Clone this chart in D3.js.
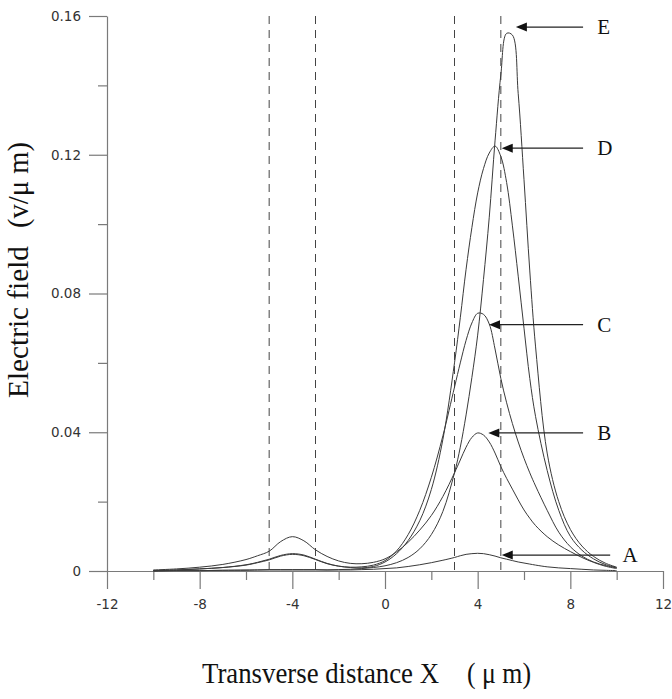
<!DOCTYPE html>
<html>
<head>
<meta charset="utf-8">
<script src="https://cdn.jsdelivr.net/npm/d3@7"></script>
<style>
  body { margin: 0; background: #fff; }
  svg { display: block; }
</style>
</head>
<body>
<svg id="chart"></svg>
<script>
var width = 672;
var height = 699;

// transverse position (µm), shared by every curve
var xs = [-10, -9, -8, -7, -6, -5.5, -5, -4.5, -4, -3.5, -3, -2.5, -2, -1.5, -1, -0.5,
          0, 0.5, 1, 1.5, 2, 2.5, 3, 3.25, 3.5, 3.75, 4, 4.25, 4.5, 4.75, 5, 5.25,
          5.5, 5.75, 6, 6.25, 6.5, 7, 7.5, 8, 8.5, 9, 9.5, 10];

// electric field (v/µm) for each curve
var fieldA = [0.0000, 0.0001, 0.0001, 0.0002, 0.0003, 0.0003, 0.0004, 0.0004, 0.0004, 0.0004, 0.0004, 0.0003, 0.0003, 0.0003, 0.0004, 0.0005,
              0.0007, 0.0009, 0.0013, 0.0018, 0.0024, 0.0031, 0.0039, 0.0044, 0.0048, 0.0050, 0.0051, 0.0050, 0.0047, 0.0043, 0.0038, 0.0034,
              0.0030, 0.0026, 0.0023, 0.0020, 0.0017, 0.0012, 0.0009, 0.0007, 0.0005, 0.0003, 0.0002, 0.0001];
var fieldB = [0.0003, 0.0006, 0.0011, 0.0019, 0.0033, 0.0044, 0.0057, 0.0085, 0.0099, 0.0087, 0.0061, 0.0042, 0.0029, 0.0022, 0.0021, 0.0025,
              0.0035, 0.0055, 0.0083, 0.0118, 0.0160, 0.0215, 0.0283, 0.0320, 0.0357, 0.0385, 0.0398, 0.0392, 0.0372, 0.0340, 0.0301, 0.0267,
              0.0236, 0.0205, 0.0176, 0.0152, 0.0131, 0.0099, 0.0075, 0.0056, 0.0039, 0.0025, 0.0014, 0.0007];
var fieldC = [0.0001, 0.0003, 0.0006, 0.0010, 0.0017, 0.0024, 0.0032, 0.0043, 0.0048, 0.0044, 0.0033, 0.0021, 0.0014, 0.0011, 0.0012, 0.0017,
              0.0030, 0.0058, 0.0105, 0.0175, 0.0270, 0.0390, 0.0530, 0.0600, 0.0665, 0.0715, 0.0743, 0.0740, 0.0712, 0.0640, 0.0555, 0.0485,
              0.0425, 0.0372, 0.0325, 0.0283, 0.0245, 0.0175, 0.0112, 0.0070, 0.0043, 0.0026, 0.0016, 0.0009];
var fieldD = [0.0001, 0.0003, 0.0006, 0.0010, 0.0018, 0.0025, 0.0034, 0.0045, 0.0050, 0.0046, 0.0034, 0.0022, 0.0014, 0.0010, 0.0009, 0.0013,
              0.0026, 0.0050, 0.0088, 0.0145, 0.0235, 0.0380, 0.0600, 0.0730, 0.0870, 0.0990, 0.1090, 0.1160, 0.1205, 0.1225, 0.1195, 0.1120,
              0.0995, 0.0850, 0.0700, 0.0555, 0.0445, 0.0290, 0.0175, 0.0100, 0.0060, 0.0035, 0.0019, 0.0010];
var fieldE = [0.0000, 0.0001, 0.0001, 0.0002, 0.0002, 0.0003, 0.0003, 0.0003, 0.0003, 0.0003, 0.0003, 0.0003, 0.0004, 0.0005, 0.0007, 0.0010,
              0.0015, 0.0024, 0.0039, 0.0064, 0.0105, 0.0172, 0.0283, 0.0357, 0.0450, 0.0558, 0.0680, 0.0840, 0.1020, 0.1240, 0.1430, 0.1550,
              0.1545, 0.1376, 0.1128, 0.0865, 0.0646, 0.0340, 0.0200, 0.0120, 0.0072, 0.0042, 0.0023, 0.0011];

var seriesNames = ["A", "B", "C", "D", "E"];
var seriesValues = [fieldA, fieldB, fieldC, fieldD, fieldE];

// arrows: tip (x, field), tail x, label x
var arrowTipX = [5.04, 4.46, 4.49, 5.04, 5.65];
var arrowTipY = [0.0046, 0.0398, 0.0710, 0.1219, 0.1568];
var arrowTailX = [9.72, 8.55, 8.55, 8.55, 8.55];
var labelX = [10.25, 9.16, 9.16, 9.16, 9.16];

// waveguide edges
var guideEdges = [-5, -3, 3, 5];

var xMajor = [-12, -8, -4, 0, 4, 8, 12];
var xMinor = [-10, -6, -2, 2, 6, 10];
var yMajor = [0, 0.04, 0.08, 0.12, 0.16];
var yMinor = [0.02, 0.06, 0.1, 0.14];

var svg = d3.select("#chart")
    .attr("width", width)
    .attr("height", height);

var x = d3.scaleLinear().domain([-12, 12]).range([107, 663]);
var y = d3.scaleLinear().domain([0, 0.16]).range([571, 16]);

var axisColor = "#7a7a7a";
var lineColor = "#3a3a3a";

// dashed guide lines
svg.selectAll(".guide")
   .data(guideEdges)
   .enter().append("line")
   .attr("x1", function(d) { return x(d); })
   .attr("x2", function(d) { return x(d); })
   .attr("y1", y(0.16))
   .attr("y2", y(0))
   .attr("stroke", "#444")
   .attr("stroke-width", 1)
   .attr("stroke-dasharray", "8,6");

// axes
svg.append("g")
   .attr("transform", "translate(0," + y(0) + ")")
   .call(d3.axisBottom(x).tickValues(xMajor).tickSize(18).tickSizeOuter(0).tickPadding(10)
         .tickFormat(function(d) { return String(d); }));
svg.append("g")
   .attr("transform", "translate(0," + y(0) + ")")
   .call(d3.axisBottom(x).tickValues(xMinor).tickSize(9).tickSizeOuter(0).tickFormat(""))
   .select(".domain").remove();

svg.append("g")
   .attr("transform", "translate(" + x(-12) + ",0)")
   .call(d3.axisLeft(y).tickValues(yMajor).tickSize(18).tickSizeOuter(0).tickPadding(8)
         .tickFormat(function(d) { return d === 0 ? "0" : d3.format(".2f")(d); }));
svg.append("g")
   .attr("transform", "translate(" + x(-12) + ",0)")
   .call(d3.axisLeft(y).tickValues(yMinor).tickSize(9).tickSizeOuter(0).tickFormat(""))
   .select(".domain").remove();

svg.selectAll(".domain, .tick line")
   .attr("stroke", axisColor)
   .attr("stroke-width", 1.2);
svg.selectAll(".tick text")
   .attr("fill", "#333")
   .style("font-family", "'DejaVu Sans', sans-serif")
   .style("font-size", "13.5px");

// curves
var line = d3.line()
   .x(function(d) { return x(d[0]); })
   .y(function(d) { return y(d[1]); })
   .curve(d3.curveCatmullRom.alpha(0.5));

svg.selectAll(".curve")
   .data(seriesValues)
   .enter().append("path")
   .attr("d", function(vals) {
      return line(xs.map(function(v, i) { return [v, vals[i]]; }));
   })
   .attr("fill", "none")
   .attr("stroke", lineColor)
   .attr("stroke-width", 1);

// arrows and labels
seriesNames.forEach(function(name, i) {
   var tx = x(arrowTipX[i]);
   var ty = y(arrowTipY[i]);
   svg.append("line")
      .attr("x1", tx + 8)
      .attr("x2", x(arrowTailX[i]))
      .attr("y1", ty)
      .attr("y2", ty)
      .attr("stroke", "#222")
      .attr("stroke-width", 1.3);
   svg.append("path")
      .attr("d", "M" + tx + "," + ty + "L" + (tx + 11) + "," + (ty - 4.5) + "L" + (tx + 11) + "," + (ty + 4.5) + "Z")
      .attr("fill", "#111");
   svg.append("text")
      .attr("x", x(labelX[i]))
      .attr("y", ty + 7)
      .attr("fill", "#111")
      .style("font-family", "'Liberation Serif', 'Times New Roman', serif")
      .style("font-size", "21px")
      .text(name);
});

// axis titles
var serif = "'Liberation Serif', 'Times New Roman', serif";
svg.append("text")
   .attr("x", 202)
   .attr("y", 683)
   .attr("textLength", 237)
   .attr("lengthAdjust", "spacingAndGlyphs")
   .style("font-family", serif)
   .style("font-size", "29px")
   .attr("fill", "#111")
   .text("Transverse distance X");
svg.append("text")
   .attr("x", 467)
   .attr("y", 683)
   .attr("textLength", 64)
   .attr("lengthAdjust", "spacingAndGlyphs")
   .style("font-family", serif)
   .style("font-size", "29px")
   .attr("fill", "#111")
   .text("( \u03bc m)");

svg.append("text")
   .attr("transform", "translate(28,398) rotate(-90)")
   .attr("textLength", 152)
   .attr("lengthAdjust", "spacingAndGlyphs")
   .style("font-family", serif)
   .style("font-size", "29px")
   .attr("fill", "#111")
   .text("Electric field");
svg.append("text")
   .attr("transform", "translate(28,228) rotate(-90)")
   .attr("textLength", 86)
   .attr("lengthAdjust", "spacingAndGlyphs")
   .style("font-family", serif)
   .style("font-size", "29px")
   .attr("fill", "#111")
   .text("(v/\u03bc m)");
</script>
</body>
</html>
